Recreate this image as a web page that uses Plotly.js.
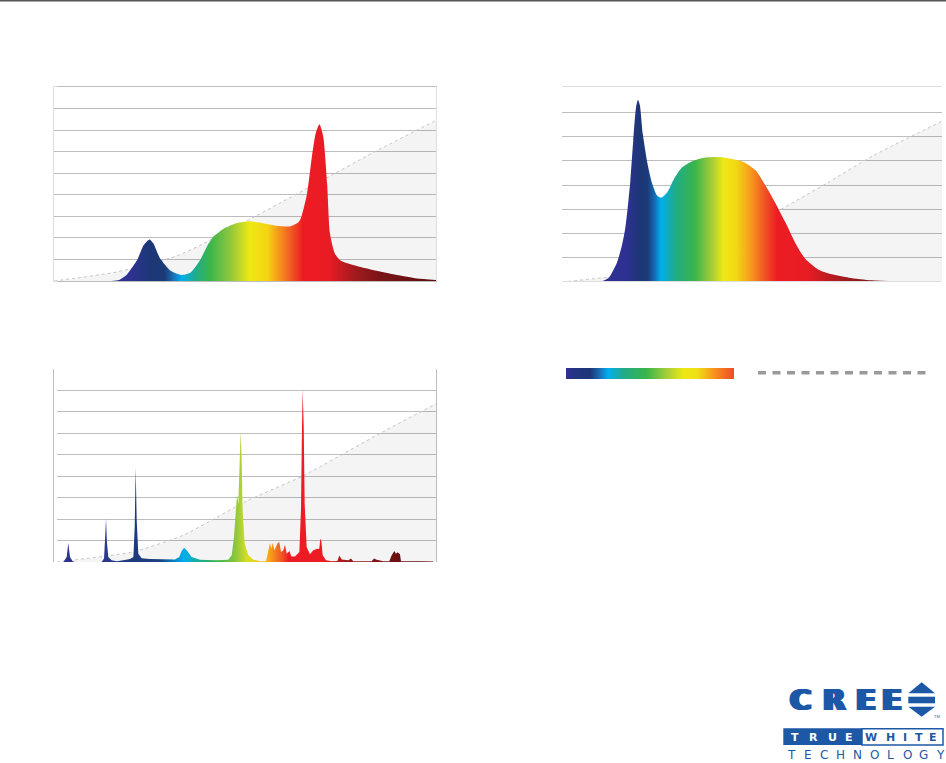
<!DOCTYPE html>
<html>
<head>
<meta charset="utf-8">
<script src="https://cdn.plot.ly/plotly-3.0.1.min.js"></script>
<style>html,body{margin:0;padding:0;background:#fff;}#chart{width:946px;height:763px;}</style>
</head>
<body>
<div id="chart"></div>
<script>
// ---- Data (wavelength in nm, relative intensity in grid units) ----
// Chart 1 (top-left)
const wl1 = [440,448,456,467,474,480,484,491,502,514,523,533,540,547,558,571,585,599,613,627,636,639,645,650,654,658,662,666,669,674,680,687,700,714,739,760,780];
const sp1 = [0,0.05,0.28,0.97,1.67,1.93,1.75,1.05,0.48,0.28,0.39,0.97,1.59,2.06,2.44,2.68,2.77,2.68,2.56,2.53,2.72,2.98,4.06,5.75,6.84,7.27,6.68,4.52,2.2,1.28,0.95,0.82,0.66,0.51,0.28,0.12,0.05];
const refX1 = [380,446,508,536,585,662,714,780];
const refY1 = [0,0.42,1.15,1.72,2.86,4.7,5.95,7.45];

// Chart 2 (top-right)
const wl2 = [420,428.7,432.3,437.6,442.8,446.3,449,452,455,458,460,462,465,470,475,480,485,491,498,506,517,531,545,559,571,584,594,605,615,626,636,650,664,682,706,734];
const sp2 = [0,0.15,0.36,0.77,1.46,2.14,3.0,4.2,5.84,7.22,7.52,7.29,6.12,4.88,4.05,3.57,3.48,3.71,4.26,4.71,4.98,5.13,5.15,5.07,4.95,4.6,3.99,3.23,2.47,1.58,0.96,0.51,0.32,0.18,0.07,0.03];
const refX2 = [380,432,470,520,560,609.5,660,707,780];
const refY2 = [0,0.22,0.5,1.05,1.8,2.97,4.1,5.2,6.63];

// Chart 3 (bottom-left)
const wl3 = [386.7,390.2,391.2,391.9,392.6,393.7,396.5,399,427,429.5,430.5,431.6,432.6,434,437.5,442.8,449.8,456.8,460.4,461.8,462.8,463.9,465.6,469.1,477.9,491.9,504.2,508.8,511.2,513.7,516.5,521.7,530.5,548,560.3,563.9,566.3,568.1,569.5,570.9,572.3,573.3,574.4,575.4,577.5,581.4,586.7,593.7,600,602.5,604.2,605.6,607,608.8,610.5,612.3,614,615.8,618.2,620,621.8,624.6,626.7,630.5,635.1,636.8,637.9,638.6,639.7,640.7,642.8,646.3,649.8,653.3,656.1,657.2,658.2,659.7,663.2,669.1,675.1,677.2,679.7,686.7,689.5,691.9,711.2,713.7,716.5,720,723.5,729.8,732.3,735.1,736.8,738.6,741,742.1,755.1,758.6,762.1,776.1];
const sp3 = [0,0.23,0.62,0.89,0.62,0.23,0.03,0,0,0.16,0.98,2.02,0.9,0.23,0.08,0.03,0.08,0.14,0.23,1.64,4.41,1.95,0.39,0.17,0.14,0.12,0.12,0.23,0.51,0.67,0.55,0.23,0.11,0.08,0.11,0.31,1.17,2.26,3.15,2.7,4.75,6.07,4.75,2.41,0.86,0.31,0.11,0.03,0.03,0.55,0.89,0.62,0.89,0.55,0.7,0.89,0.93,0.47,0.55,0.81,0.39,0.51,0.26,0.26,0.47,2.41,6.31,8.05,6.31,2.73,0.7,0.36,0.55,0.61,0.62,1.09,1.0,0.31,0.08,0.03,0.05,0.3,0.12,0.08,0.16,0.03,0.03,0.16,0.11,0.08,0.03,0.03,0.31,0.51,0.39,0.45,0.36,0.03,0.03,0.06,0.03,0.02];
const refX3 = [380,460,513,580,639,723,780];
const refY3 = [0,0.47,1.25,2.85,4.02,6.07,7.4];

const gridVals9 = [1,2,3,4,5,6,7,8];
const gridVals8 = [1,2,3,4,5,6,7];

// ---- Colour scales along wavelength ----
const cs1 = [[0,'#2e3192'],[0.2,'#2e3192'],[0.25,'#1c3776'],[0.29,'#1c3a78'],[0.312,'#1a6fb5'],[0.334,'#00aeef'],[0.37,'#20ac8c'],[0.408,'#39b54a'],[0.46,'#8dc63f'],[0.513,'#eee814'],[0.56,'#f4d313'],[0.59,'#f7941d'],[0.62,'#f15a24'],[0.652,'#ed1c24'],[0.72,'#e81c24'],[0.79,'#a01a1e'],[0.853,'#7a1517'],[1,'#5c0e0e']];
const cs2 = [[0,'#2e3192'],[0.17,'#2e3192'],[0.205,'#1c3776'],[0.225,'#1c3a78'],[0.245,'#1170b8'],[0.26,'#00aeef'],[0.297,'#1fab8a'],[0.35,'#39b54a'],[0.395,'#a6ce39'],[0.425,'#eee814'],[0.46,'#f2d614'],[0.5,'#f7941d'],[0.53,'#f15a24'],[0.566,'#ed1c24'],[0.645,'#e81c24'],[0.745,'#9e1b1f'],[0.88,'#6b1213'],[1,'#5c0f10']];
const cs3 = [[0,'#2e3192'],[0.12,'#2b3990'],[0.2,'#1e3a7c'],[0.27,'#1b3f80'],[0.333,'#00aeef'],[0.38,'#1fae8a'],[0.42,'#39b54a'],[0.47,'#8dc63f'],[0.5,'#d7df23'],[0.54,'#f5c316'],[0.56,'#f7a11a'],[0.59,'#f15a24'],[0.61,'#ed1c24'],[0.7,'#ed1c24'],[0.76,'#9e1b1f'],[0.89,'#6b1213'],[1,'#5c0f10']];
const csLegend = [[0,'#2e3192'],[0.07,'#223580'],[0.143,'#1c3776'],[0.2,'#1a6cb4'],[0.25,'#00aeef'],[0.34,'#22ab8a'],[0.48,'#39b54a'],[0.6,'#a6ce39'],[0.7,'#eee814'],[0.78,'#efe015'],[0.88,'#f7941d'],[1,'#ef4b24']];

const W = 946, H = 763;
const px = X => X / W;
const py = Y => 1 - Y / H;

function refTrace(x, y, xa, ya) {
  return {x: x, y: y, xaxis: xa, yaxis: ya, type: 'scatter', mode: 'lines',
    line: {color: '#c4c4c4', width: 1, dash: '3px,3px', shape: 'spline', smoothing: 0.5},
    fill: 'tozeroy', fillcolor: 'rgba(0,0,0,0.045)', hoverinfo: 'skip', showlegend: false};
}
function specTrace(x, y, xa, ya, cs, shape) {
  return {x: x, y: y, xaxis: xa, yaxis: ya, type: 'scatter', mode: 'lines',
    line: {width: 0, shape: shape, smoothing: 0.6},
    fill: 'tozeroy', fillgradient: {type: 'horizontal', start: 380, stop: 780, colorscale: cs},
    hoverinfo: 'skip', showlegend: false};
}

const traces = [
  refTrace(refX1, refY1, 'x', 'y'),
  specTrace(wl1, sp1, 'x', 'y', cs1, 'spline'),
  refTrace(refX2, refY2, 'x2', 'y2'),
  specTrace(wl2, sp2, 'x2', 'y2', cs2, 'spline'),
  refTrace(refX3, refY3, 'x3', 'y3'),
  specTrace(wl3, sp3, 'x3', 'y3', cs3, 'linear'),
  {x: [0,1,1,0,0], y: [0,0,1,1,0], xaxis: 'x4', yaxis: 'y4', type: 'scatter', mode: 'lines',
   line: {width: 0}, fill: 'toself', fillgradient: {type: 'horizontal', start: 0, stop: 1, colorscale: csLegend},
   hoverinfo: 'skip', showlegend: false}
];

function xax(d0, d1, lc) {
  return {domain: [px(d0), px(d1)], range: [380, 780], showgrid: false, zeroline: false,
    showticklabels: false, ticks: '', showline: true, mirror: true, linecolor: lc, linewidth: 1, fixedrange: true};
}
function yax(top, bottom, maxv, tv, lc) {
  return {domain: [py(bottom), py(top)], range: [0, maxv], tickvals: tv, showgrid: true,
    gridcolor: '#bdbdbd', gridwidth: 1, zeroline: false, showticklabels: false, ticks: '',
    showline: true, mirror: true, linecolor: lc, linewidth: 1, fixedrange: true};
}

const blue = '#1d58a6';
const annotations = [];
function letter(X, Y, s, size, color, weight, family, shadow, yanchor) {
  const f = {size: size, color: color, weight: weight, family: family};
  if (shadow) f.shadow = shadow;
  annotations.push({xref: 'paper', yref: 'paper', x: px(X), y: py(Y), text: s, showarrow: false,
    xanchor: 'center', yanchor: yanchor || 'middle', borderpad: 0, font: f});
}
// CREE
const creeX = [800, 834, 866, 892];
const heavy = `2px 0 0 ${blue}, -2px 0 0 ${blue}, 1px 0 0 ${blue}, -1px 0 0 ${blue}`;
'CREE'.split('').forEach((c, i) => letter(creeX[i], 699.5, c, 29, blue, 700, 'DejaVu Sans', heavy));
letter(937, 716, 'TM', 4, blue, 400, 'Liberation Sans');
// TRUE WHITE
const trueX = [795, 813, 832, 849];
'TRUE'.split('').forEach((c, i) => letter(trueX[i], 737, c, 11, '#ffffff', 700, 'DejaVu Sans'));
const whiteX = [871, 890, 905, 919, 933];
'WHITE'.split('').forEach((c, i) => letter(whiteX[i], 737, c, 11, blue, 700, 'DejaVu Sans'));
// TECHNOLOGY
'TECHNOLOGY'.split('').forEach((c, i) => letter(791 + i * 16.6, 763, c, 12, blue, 400, 'DejaVu Sans', null, 'bottom'));

const shapes = [
  // top rule
  {type: 'line', xref: 'paper', yref: 'paper', x0: 0, x1: 1, y0: py(0.8), y1: py(0.8), line: {color: '#555555', width: 1.6}},
  // legend dashed line
  {type: 'line', xref: 'paper', yref: 'paper', x0: px(758), x1: px(926), y0: py(372.7), y1: py(372.7), line: {color: '#9a9a9a', width: 3.5, dash: '8px,6.5px'}},
  // logo triangles and bar
  {type: 'path', xref: 'paper', yref: 'paper', path: `M ${px(908.3)},${py(693.3)} L ${px(935)},${py(693.3)} L ${px(921.7)},${py(682.3)} Z`, fillcolor: blue, line: {width: 0}},
  {type: 'rect', xref: 'paper', yref: 'paper', x0: px(908.3), x1: px(935), y0: py(703.3), y1: py(696.7), fillcolor: blue, line: {width: 0}},
  {type: 'path', xref: 'paper', yref: 'paper', path: `M ${px(908.3)},${py(706.7)} L ${px(935)},${py(706.7)} L ${px(921.7)},${py(716.7)} Z`, fillcolor: blue, line: {width: 0}},
  // TRUE WHITE boxes
  {type: 'rect', xref: 'paper', yref: 'paper', x0: px(783.3), x1: px(862), y0: py(745), y1: py(728.3), fillcolor: blue, line: {width: 0}},
  {type: 'rect', xref: 'paper', yref: 'paper', x0: px(862), x1: px(943), y0: py(745), y1: py(728.8), fillcolor: 'rgba(0,0,0,0)', line: {color: blue, width: 1.5}}
];

const layout = {
  width: W, height: H, margin: {l: 0, r: 0, t: 0, b: 0},
  paper_bgcolor: '#ffffff', plot_bgcolor: '#ffffff', showlegend: false,
  xaxis: xax(54, 436, '#e2e2e2'), yaxis: yax(87, 281, 9, gridVals9, '#e2e2e2'),
  xaxis2: xax(562, 942, '#dedede'), yaxis2: yax(88, 282, 8, gridVals8, '#dedede'),
  xaxis3: xax(57, 437, '#bdbdbd'), yaxis3: yax(369, 562, 9, gridVals9, '#bdbdbd'),
  xaxis4: {domain: [px(566), px(734)], range: [0, 1], visible: false, fixedrange: true},
  yaxis4: {domain: [py(379), py(368)], range: [0, 1], visible: false, fixedrange: true},
  annotations: annotations, shapes: shapes
};

Plotly.newPlot('chart', traces, layout, {displayModeBar: false, staticPlot: true});
</script>
</body>
</html>
